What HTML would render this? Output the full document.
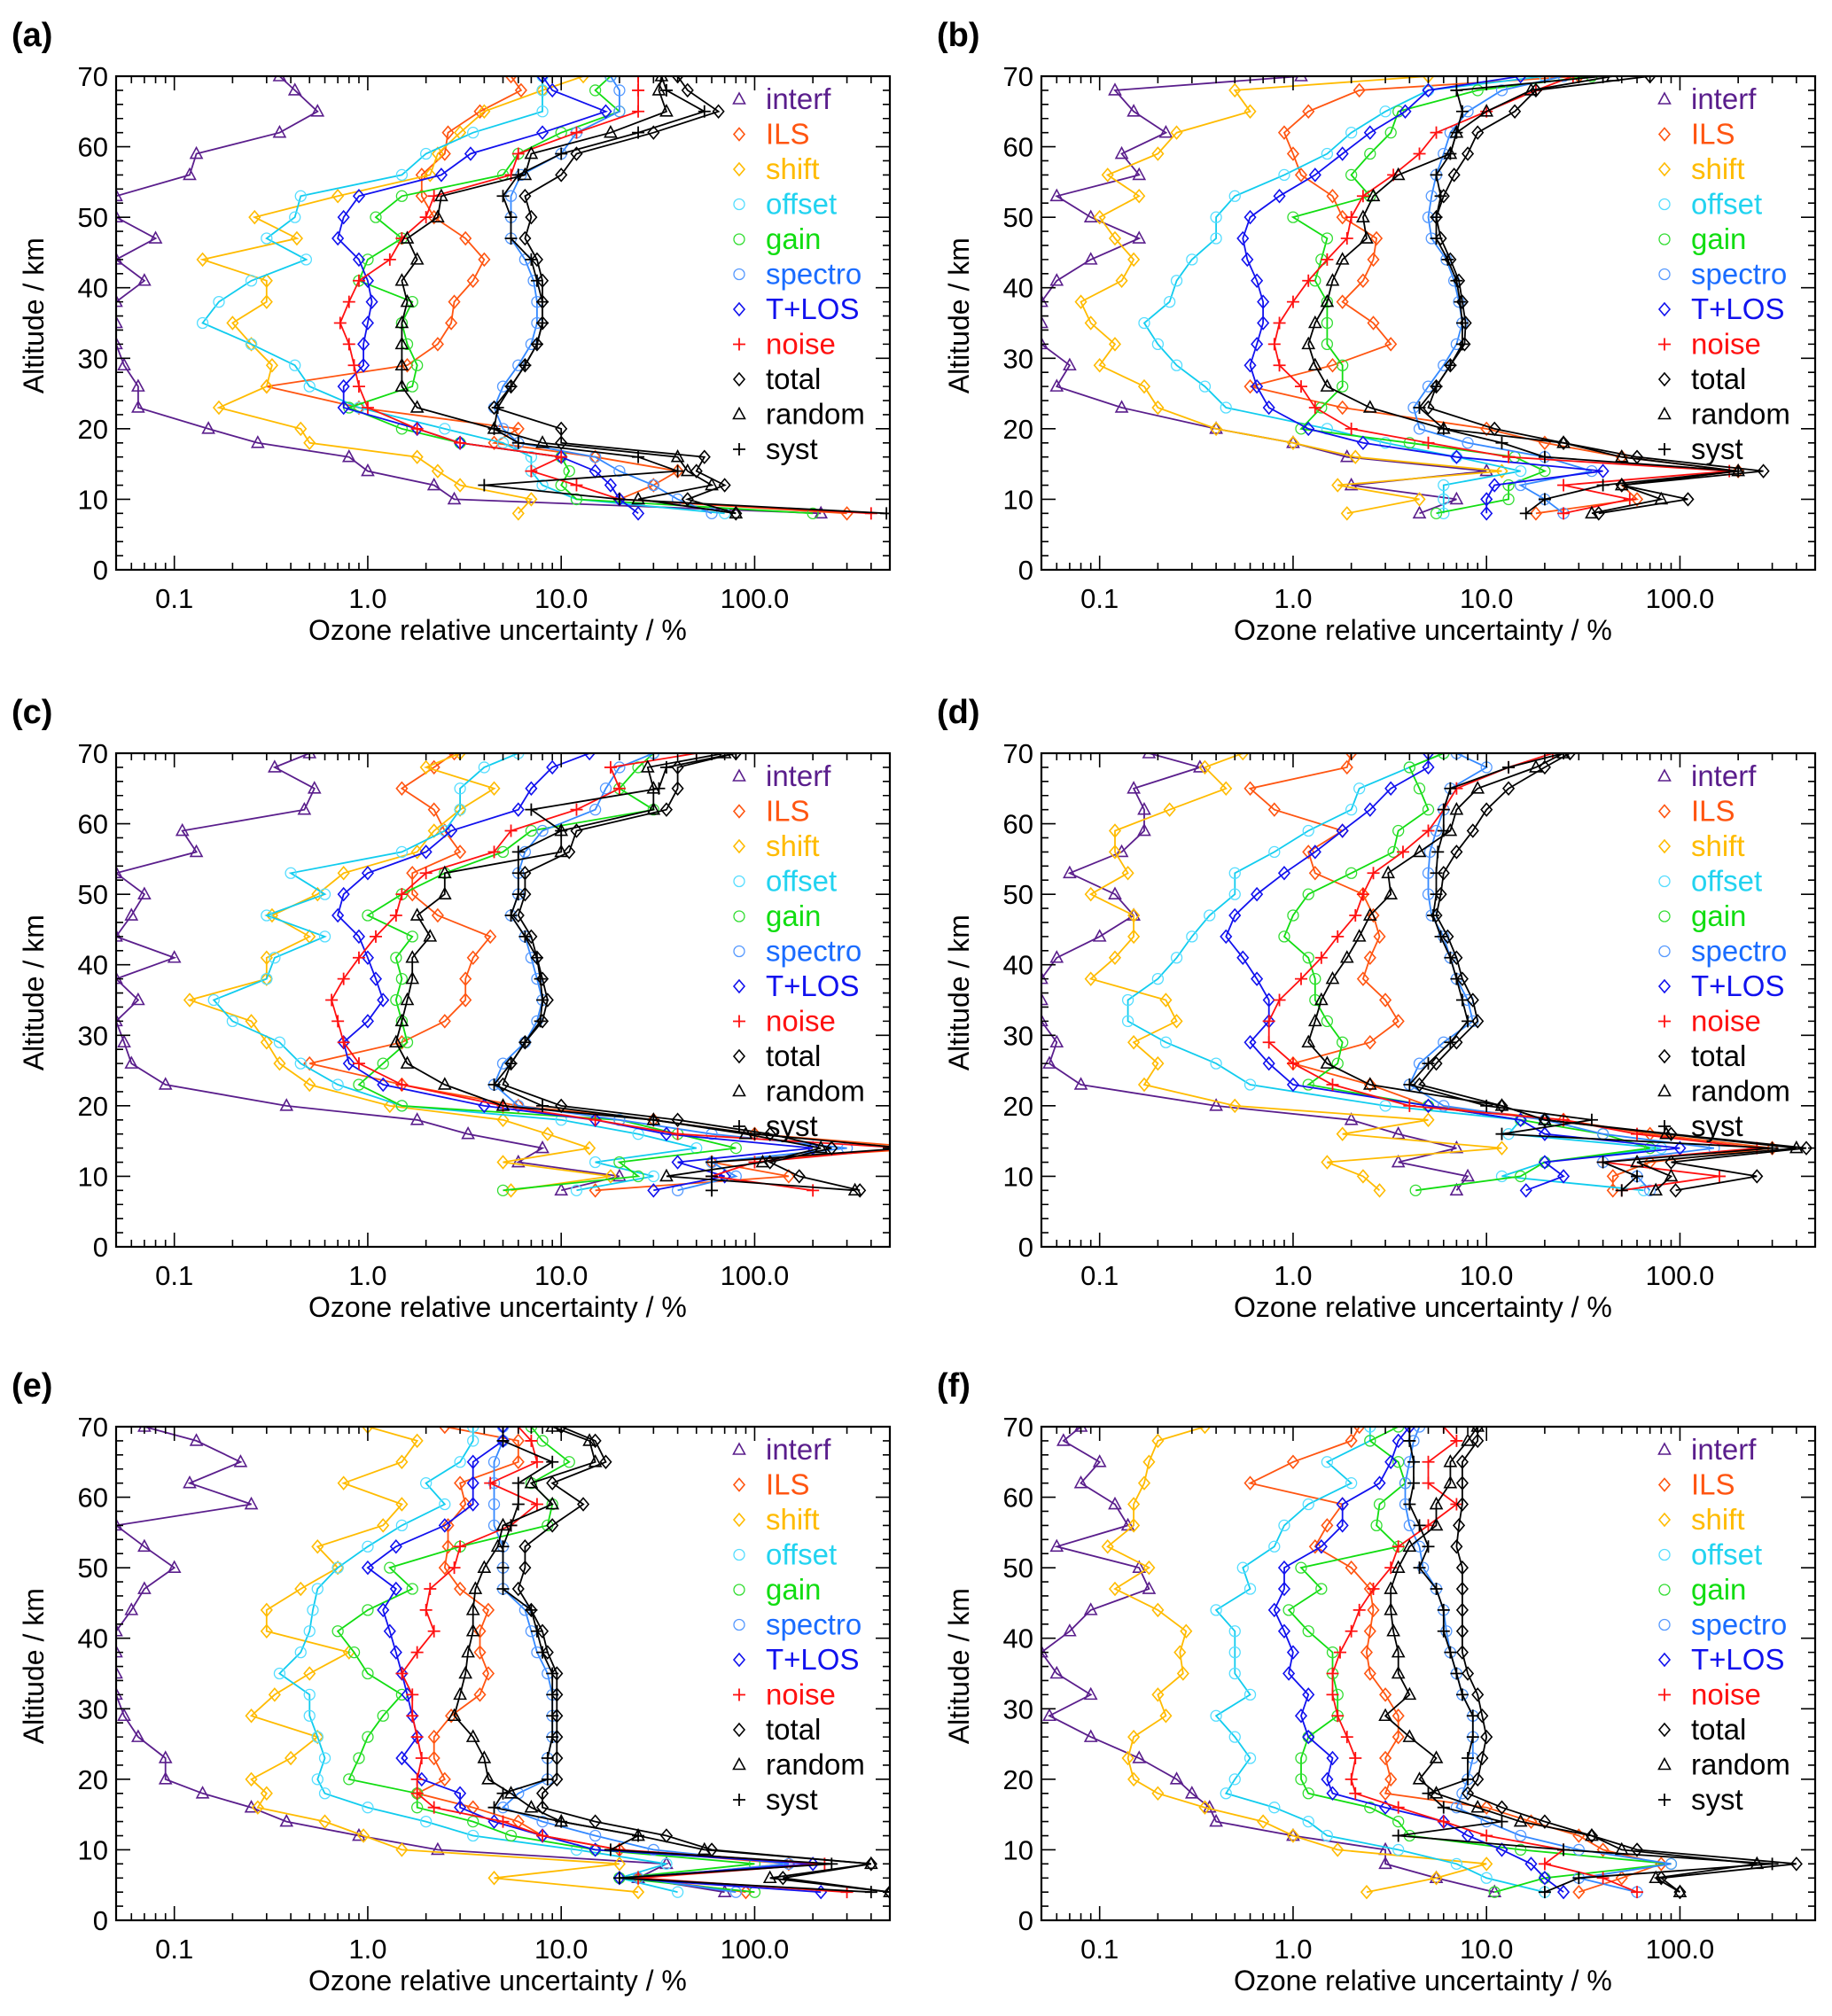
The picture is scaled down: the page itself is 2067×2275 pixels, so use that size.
<!DOCTYPE html>
<html><head><meta charset="utf-8"><style>
html,body{margin:0;padding:0;background:#fff;}
svg{display:block;font-family:"Liberation Sans",Arial,sans-serif;}
</style></head><body>
<svg id="fig" width="2067" height="2275" viewBox="0 0 2067 2275" xmlns="http://www.w3.org/2000/svg"></svg>
<script>
// altitude grids (km)
const altRow = [8,10,12,14,16,18,20,23,26,29,32,35,38,41,44,47,50,53,56,59,62,65,68,70];
const altLow = [4,6,8,10,12,14,16,18,20,23,26,29,32,35,38,41,44,47,50,53,56,59,62,65,68,70];
const xTickLabels = ["0.1","1.0","10.0","100.0"];
const xTickValues = [0.1,1,10,100];
const yTickValues = [0,10,20,30,40,50,60,70];
const seriesNames = ["interf","ILS","shift","offset","gain","spectro","T+LOS","noise","total","random","syst"];

// panel (a)
const a_interf=[220,2.8,2.2,1.0,0.8,0.27,0.15,0.065,0.065,0.055,0.05,0.05,0.05,0.07,0.05,0.08,0.05,0.05,0.12,0.13,0.35,0.55,0.42,0.35];
const a_ILS=[300,20,30,40,15,4.5,6,0.9,0.3,1.6,2.3,2.7,2.8,3.5,4,3.2,2.2,1.9,1.9,2.5,2.6,3.8,6.2,5.5];
const a_shift=[6,7,3,2.3,1.8,0.5,0.45,0.17,0.3,0.32,0.25,0.2,0.3,0.3,0.14,0.43,0.26,0.7,2.1,2.3,3.0,4.0,8.0,13];
const a_offset=[70,12,8,7,7,5,2.5,0.9,0.5,0.42,0.25,0.14,0.17,0.25,0.48,0.3,0.42,0.45,1.5,2.0,3.5,8,8,8];
const a_gain=[200,12,10,11,10,3,1.5,0.8,1.7,1.8,1.6,1.5,1.7,0.9,1.0,1.5,1.1,1.5,5,6,10,20,15,18];
const a_spectro=[60,40,30,20,15,6,5,4.5,5,6,7,7.5,7.5,7.2,6.5,5.5,5.5,5.5,6.2,10,12,20,20,18];
const a_tlos=[25,20,18,15,10,3,1.8,0.75,0.75,0.95,0.95,1.0,1.05,1.0,0.9,0.7,0.75,0.9,2.4,3.4,8,17,9,8];
const a_noise=[400,20,12,7,10,3,1.8,1.0,0.9,0.85,0.8,0.72,0.8,0.9,1.3,1.5,2.0,2.2,5.5,6,12,25,25,25];
const a_total=[80,45,70,50,55,10,10,4.5,5.5,6.5,7.5,8,8,8,7.5,6.5,7,6.5,10,12,30,65,45,40];
const a_random=[80,25,60,45,40,8,4.5,1.8,1.5,1.5,1.5,1.5,1.6,1.5,1.8,1.6,2.3,2.4,6.5,7,18,35,32,33];
const a_syst=[480,20,4,40,25,6,4.5,4.7,5.5,6.5,7.5,8,8,7.5,7,5.5,5.5,5,6,10,25,55,35,33];
// panel (b)
const b_interf=[4.5,7,2,10,1.9,1.0,0.4,0.13,0.06,0.07,0.05,0.05,0.05,0.06,0.09,0.16,0.09,0.06,0.16,0.13,0.22,0.15,0.12,1.1];
const b_ILS=[18,60,50,200,50,20,10,1.8,0.6,1.6,3.2,2.6,1.8,2.3,2.6,2.7,1.8,1.6,1.1,1.0,0.9,1.2,2.2,30];
const b_shift=[1.9,4.5,1.7,12,2.1,1.0,0.4,0.2,0.17,0.1,0.12,0.09,0.08,0.13,0.15,0.12,0.1,0.16,0.11,0.2,0.25,0.6,0.5,5];
const b_offset=[6,6,6,15,7,3,1.5,0.45,0.35,0.25,0.2,0.17,0.23,0.25,0.3,0.4,0.4,0.5,0.9,1.5,2.0,3,5,20];
const b_gain=[5.5,13,13,20,14,4,1.1,1.4,1.8,1.8,1.5,1.5,1.5,1.3,1.4,1.5,1.0,2.5,2.0,2.5,3.2,3.5,9,35];
const b_spectro=[25,20,15,35,20,8,4.5,4.2,5,6,7,7.5,7.2,6.8,6.2,5.2,5,5.2,5.5,6,6.5,8,12,25];
const b_tlos=[10,10,11,40,7,2.3,1.2,0.75,0.65,0.6,0.65,0.7,0.7,0.65,0.58,0.55,0.6,0.85,1.3,1.8,2.5,3.8,5,15];
const b_noise=[25,55,25,180,13,5,2,1.3,1.1,0.85,0.8,0.85,1.0,1.2,1.5,1.9,2.0,2.3,3.3,4.5,5.5,10,18,28];
const b_total=[38,110,50,270,60,25,11,5,5.5,6.5,7.7,7.8,7.5,7.2,6.5,5.8,5.5,6,6.8,8,9,14,18,70];
const b_random=[35,80,50,200,50,25,6,2.5,1.5,1.3,1.2,1.3,1.5,1.6,1.8,2.4,2.3,2.6,3.5,6.5,7,10,17,45];
const b_syst=[16,20,40,200,20,12,6,4.5,5.5,6.5,7.5,7.5,7.3,7,6.3,5.5,5.5,5.8,5.5,6.5,7,7.5,7,40];
// panel (c)
const c_interf=[10,20,6,8,3.3,1.8,0.38,0.09,0.06,0.055,0.05,0.065,0.05,0.1,0.05,0.06,0.07,0.05,0.13,0.11,0.47,0.53,0.33,0.5];
const c_ILS=[15,150,60,800,100,30,6,1.5,0.5,1.5,2.5,3.2,3.2,3.5,4.3,2.3,1.7,1.7,3.0,2.5,2.2,1.5,2.2,2.8];
const c_shift=[5.5,18,5,14,8.5,5,1.3,0.5,0.35,0.3,0.25,0.12,0.3,0.3,0.5,0.32,0.55,0.75,1.8,2.2,3,4.5,2,3];
const c_offset=[12,30,15,50,25,10,1.5,0.7,0.45,0.35,0.2,0.16,0.3,0.33,0.6,0.3,0.6,0.4,1.5,2.5,3,3,4,6];
const c_gain=[5,25,20,80,40,20,1.5,0.9,1.2,1.6,1.5,1.4,1.5,1.4,1.7,1.0,1.5,2.5,5,7,30,20,25,30];
const c_spectro=[40,80,60,300,60,20,6,4.5,5,6.5,7.5,8,7.5,7,6.5,5.5,6,6,6.5,8,15,17,20,30];
const c_tlos=[30,70,40,200,35,15,4,1.2,0.8,0.75,1.0,1.2,1.1,1.0,0.9,0.7,0.75,1.0,2,2.7,6,7,9,14];
const c_noise=[200,60,100,600,40,15,5,1.5,0.9,0.75,0.7,0.65,0.75,0.9,1.1,1.4,1.5,2,4.5,5.5,12,20,18,50];
const c_total=[350,170,120,250,120,40,10,5,5.5,6.5,8,8.5,8,7.5,7,6,6.5,6.5,11,12,35,40,40,80];
const c_random=[330,35,110,220,90,30,5,2.5,1.6,1.4,1.5,1.6,1.7,1.7,2.1,1.8,2.5,2.5,10,10,30,30,28,70];
const c_syst=[60,60,60,600,100,30,8,4.5,5.5,6.5,7.8,8,7.8,7.5,6.5,5.5,6,6,6,10,7,32,35,80];
// panel (d)
const d_interf=[7,8,3.5,7,3.5,2,0.4,0.08,0.055,0.06,0.05,0.05,0.05,0.06,0.1,0.15,0.12,0.07,0.13,0.17,0.17,0.15,0.33,0.18];
const d_ILS=[45,45,70,300,70,25,5,2.5,1.0,2.5,3.5,3.0,2.3,2.5,2.8,2.6,2.3,1.3,1.2,1.8,0.8,0.6,1.9,2];
const d_shift=[2.8,2.3,1.5,12,1.8,5,0.5,0.17,0.2,0.15,0.25,0.22,0.09,0.12,0.15,0.15,0.09,0.14,0.12,0.12,0.23,0.45,0.35,0.55];
const d_offset=[65,12,20,80,13,15,3,0.6,0.4,0.22,0.14,0.14,0.2,0.25,0.3,0.37,0.5,0.5,0.8,1.2,2,2.2,4,6];
const d_gain=[4.3,15,20,70,40,15,5,1.2,1.7,1.8,1.5,1.3,1.3,1.2,0.9,1.0,1.2,2.0,3.3,3.5,5,4.5,4,6];
const d_spectro=[70,60,40,150,40,20,6,4,4.5,6,8.5,8,7,6.5,6,5.2,5,5,5.1,5.5,6,6.5,10,7];
const d_tlos=[16,25,20,100,20,15,5,1.0,0.75,0.6,0.75,0.75,0.65,0.55,0.45,0.5,0.65,0.9,1.3,1.8,2.5,3.2,5,5];
const d_noise=[50,160,40,250,60,25,4,1.6,1.0,0.75,0.75,0.85,1.1,1.4,1.7,2.1,2.3,2.6,3.7,5,6,7,13,22];
const d_total=[95,250,90,450,90,20,12,4.5,5.5,7,9,8.5,7.5,7,6.3,5.5,5.8,6,7,8.5,10,13,20,27];
const d_random=[75,90,60,400,85,20,12,2.5,1.5,1.2,1.3,1.4,1.6,1.9,2.2,2.5,3.2,3.1,4.5,6.5,7,9,18,25];
const d_syst=[50,60,40,300,12,35,10,4,5,6.5,8,7.5,7,6.5,5.8,5.3,5.5,5.5,5.6,6,6,6.5,13,25];
// panel (e)
const e_interf=[70,25,35,2.3,0.9,0.38,0.25,0.14,0.09,0.09,0.065,0.055,0.05,0.05,0.05,0.05,0.06,0.07,0.1,0.07,0.05,0.25,0.12,0.22,0.13,0.07];
const e_ILS=[90,25,150,20,8,6,3.5,1.8,2.5,2.2,2.2,2.7,3.8,4.2,3.8,3.8,4.2,3,2.5,2.6,2.6,3.2,3,6,6,2.5];
const e_shift=[25,4.5,20,1.5,0.95,0.6,0.27,0.3,0.25,0.4,0.55,0.25,0.33,0.5,0.8,0.3,0.3,0.45,0.7,0.55,1.2,1.5,0.75,1.5,1.8,1.0];
const e_offset=[40,20,35,12,3.5,2,1,0.6,0.55,0.6,0.55,0.5,0.5,0.35,0.45,0.5,0.52,0.55,0.7,1.0,1.5,2.5,2,3,3.5,3.5];
const e_gain=[100,20,100,15,5.5,3.5,1.8,1.8,0.8,0.9,1.0,1.2,1.5,1.0,0.85,0.7,1.0,1.7,1.3,3.0,8.5,9,7,11,8,7];
const e_spectro=[80,25,150,30,15,8,5,6,8.5,8.5,9,9,9,8.5,7.5,7,6.5,5,5,5,4.5,4.5,4.5,4.5,5,5];
const e_tlos=[220,20,200,15,8,4.5,3,3,1.9,1.5,1.8,1.7,1.6,1.5,1.4,1.3,1.2,1.4,1.0,1.4,2.5,3.5,3.5,3.5,5,5];
const e_noise=[300,25,230,20,8,5,2.2,1.8,1.8,1.9,1.8,1.7,1.7,1.5,1.8,2.2,2.0,2.1,2.8,3.0,5.5,7.5,4.3,7.5,7,6];
const e_total=[500,140,400,60,35,15,8,8,9.5,9.5,9.5,9.5,9.5,9.5,8.5,8,7,6,6.5,6.5,9,13,9,17,15,10];
const e_random=[500,120,400,55,25,10,7,5.5,4.2,4,3.5,2.8,3.0,3.2,3.3,3.5,3.5,3.6,4.0,4.7,5,9,7,15,14,9];
const e_syst=[400,20,250,18,25,10,4.5,5,8.5,8.5,9,9,9,9,8,7.5,7,5,5,5,5.5,6,6,9,5,5];
// panel (f)
const f_interf=[11,5.5,3,3,1,0.4,0.37,0.3,0.25,0.16,0.09,0.055,0.09,0.06,0.05,0.07,0.09,0.18,0.16,0.06,0.14,0.12,0.08,0.1,0.065,0.08];
const f_ILS=[30,50,80,40,30,17,10,3,3.2,3,3.5,3.5,3,2.5,2.4,2.5,2.6,2.5,2.0,1.3,1.5,1.8,0.6,1.0,2.0,2.2];
const f_shift=[2.4,5.5,10,1.7,1.0,0.7,0.35,0.2,0.15,0.14,0.15,0.22,0.2,0.27,0.26,0.28,0.2,0.12,0.18,0.11,0.15,0.15,0.17,0.18,0.2,0.35];
const f_offset=[20,10,7,3.5,1.5,1.2,0.8,0.45,0.5,0.6,0.5,0.4,0.6,0.5,0.5,0.5,0.4,0.6,0.55,0.8,0.9,1.2,2.0,1.5,2.5,2.5];
const f_gain=[11,20,90,15,4,3.5,2.5,1.2,1.1,1.1,1.2,1.7,1.7,1.6,1.6,1.2,0.95,1.4,1.1,3.5,2.7,2.8,3.8,3.5,2.5,3.5];
const f_spectro=[60,30,90,30,15,10,7,7.5,8,8.5,8.5,8.5,7.5,7,6.5,6.2,6,5.5,4.7,4.5,4.0,3.8,3.8,4.0,4.2,4.5];
const f_tlos=[25,20,17,12,8,6,3,1.6,1.5,1.6,1.2,1.1,1.2,0.95,1.0,0.9,0.8,0.9,0.9,1.4,1.8,1.8,2.8,3.2,3.5,4];
const f_noise=[60,40,20,25,10,6,3.5,2.1,2.0,2.1,1.9,1.7,1.6,1.6,1.75,2.0,2.2,2.6,3.2,3.5,5,7,5,5,7,6];
const f_total=[100,80,400,60,35,20,12,8,9,9.5,10,9.5,9,8,7.5,7.5,7.5,7.5,7.5,7,7.2,7.5,7.5,7.5,9,9];
const f_random=[100,75,250,50,35,15,9,5.5,4.5,5.5,4,3,4,3.5,3.5,3.3,3.2,3.2,3.5,4,5.5,5.5,6.5,6.5,8,9];
const f_syst=[20,30,300,25,3.5,12,6,5,8,8,8.5,8.5,7.5,7,6.5,6,6,5.5,4.5,5,4.5,4,4.2,4.2,4,4];

const panels = [
 {id:"a",label:"(a)",x0:131,y0:86,alt:altRow,s:[a_interf,a_ILS,a_shift,a_offset,a_gain,a_spectro,a_tlos,a_noise,a_total,a_random,a_syst]},
 {id:"b",label:"(b)",x0:1175,y0:86,alt:altRow,s:[b_interf,b_ILS,b_shift,b_offset,b_gain,b_spectro,b_tlos,b_noise,b_total,b_random,b_syst]},
 {id:"c",label:"(c)",x0:131,y0:850,alt:altRow,s:[c_interf,c_ILS,c_shift,c_offset,c_gain,c_spectro,c_tlos,c_noise,c_total,c_random,c_syst]},
 {id:"d",label:"(d)",x0:1175,y0:850,alt:altRow,s:[d_interf,d_ILS,d_shift,d_offset,d_gain,d_spectro,d_tlos,d_noise,d_total,d_random,d_syst]},
 {id:"e",label:"(e)",x0:131,y0:1610,alt:altLow,s:[e_interf,e_ILS,e_shift,e_offset,e_gain,e_spectro,e_tlos,e_noise,e_total,e_random,e_syst]},
 {id:"f",label:"(f)",x0:1175,y0:1610,alt:altLow,s:[f_interf,f_ILS,f_shift,f_offset,f_gain,f_spectro,f_tlos,f_noise,f_total,f_random,f_syst]}
];

const styleColor=["#5a1e8c","#ff5511","#ffbb00","#11ccee","#11dd11","#3388ff","#1111ee","#ff1111","#000","#000","#000"];
const styleMark=["tri","dia","dia","circ","circ","circ","dia","plus","dia","tri","plus"];
const markColor=["#5a1e8c","#ff5511","#ffbb00","#55ddff","#33dd33","#5599ff","#1111ee","#ff1111","#000","#000","#000"];

const W=873,H=557,XMIN=0.05,XMAX=500,YMIN=0,YMAX=70;
const NS="http://www.w3.org/2000/svg";
const svg=document.getElementById("fig");
function mk(tag,attrs,parent){const e=document.createElementNS(NS,tag);for(const k in attrs)e.setAttribute(k,attrs[k]);(parent||svg).appendChild(e);return e;}

function marker(g,type,x,y,col){
  let e;
  if(type==="tri") e=mk("polygon",{points:`${x},${y-7} ${x-6.5},${y+5} ${x+6.5},${y+5}`,fill:"none",stroke:col,"stroke-width":1.6},g);
  else if(type==="dia") e=mk("polygon",{points:`${x},${y-7} ${x+6},${y} ${x},${y+7} ${x-6},${y}`,fill:"none",stroke:col,"stroke-width":1.6},g);
  else if(type==="circ") e=mk("circle",{cx:x,cy:y,r:6,fill:"none",stroke:col,"stroke-width":1.3},g);
  else e=mk("path",{d:`M${x-7},${y}H${x+7}M${x},${y-7}V${y+7}`,stroke:col,"stroke-width":1.8},g);
  return e;
}

panels.forEach(p=>{
  const xs=v=>p.x0+(Math.log10(v)-Math.log10(XMIN))/(Math.log10(XMAX)-Math.log10(XMIN))*W;
  const ys=a=>p.y0+H-(a-YMIN)/(YMAX-YMIN)*H;
  const g=mk("g",{});
  
  
  const clip=mk("clipPath",{id:"clip-"+p.id},g);
  mk("rect",{x:p.x0,y:p.y0,width:W,height:H},clip);
  const lab=mk("text",{x:p.x0-118,y:p.y0-34,"font-size":38,"font-weight":"bold"},g);
  lab.textContent=p.label;
  
  
  const plot=mk("g",{"clip-path":`url(#clip-${p.id})`},g);
  
  
  p.s.forEach((vals,si)=>{
    const sg=mk("g",{},plot);
    
    
    const pts=vals.map((v,i)=>[xs(v),ys(p.alt[i])]);
    const line=mk("polyline",{points:pts.map(q=>q[0].toFixed(1)+","+q[1].toFixed(1)).join(" "),fill:"none",stroke:styleColor[si],"stroke-width":1.8},sg);
    
    
    pts.forEach(q=>{const m=marker(sg,styleMark[si],q[0],q[1],markColor[si]);
      
      });
  });
  const fr=mk("rect",{x:p.x0,y:p.y0,width:W,height:H,fill:"none",stroke:"#000","stroke-width":2.2},g);
  
  
  let d="";
  for(let e=-2;e<=2;e++){for(let k=1;k<=9;k++){const v=k*Math.pow(10,e);if(v<XMIN-1e-9||v>XMAX+1e-9)continue;const x=xs(v);const L=(k===1)?16:8;
    d+=`M${x},${p.y0+H}V${p.y0+H-L}M${x},${p.y0}V${p.y0+L}`;}}
  for(let a=0;a<=70;a+=2){const y=ys(a);const L=(a%10===0)?16:8;d+=`M${p.x0},${y}H${p.x0+L}M${p.x0+W},${y}H${p.x0+W-L}`;}
  const tk=mk("path",{d:d,stroke:"#000","stroke-width":1.6,fill:"none"},g);
  
  
  xTickValues.forEach((v,i)=>{const t=mk("text",{x:xs(v),y:p.y0+H+43,"font-size":31,"text-anchor":"middle"},g);t.textContent=xTickLabels[i];
    
    });
  yTickValues.forEach(a=>{const t=mk("text",{x:p.x0-9,y:ys(a)+11,"font-size":31,"text-anchor":"end"},g);t.textContent=String(a);
    
    });
  const xt=mk("text",{x:p.x0+W*0.493,y:p.y0+H+79,"font-size":32,"text-anchor":"middle"},g);
  xt.textContent="Ozone relative uncertainty / %";
  
  
  const yc=p.y0+H*0.485, yx=p.x0-82;
  const yt=mk("text",{x:yx,y:yc,"font-size":32,"text-anchor":"middle",transform:`rotate(-90 ${yx} ${yc})`},g);
  yt.textContent="Altitude / km";
  
  
  const lg=mk("g",{},g);
  
  
  seriesNames.forEach((n,si)=>{
    const yy=p.y0+26+si*39.5;
    const eg=mk("g",{},lg);
    
    
    marker(eg,styleMark[si],p.x0+703,yy,markColor[si]);
    const t=mk("text",{x:p.x0+733,y:yy+11,"font-size":33,fill:styleColor[si]==="#11ccee"?"#22d3f0":(styleColor[si]==="#3388ff"?"#1a6cff":styleColor[si])},eg);
    t.textContent=n;
  });
});
</script>
</body></html>
